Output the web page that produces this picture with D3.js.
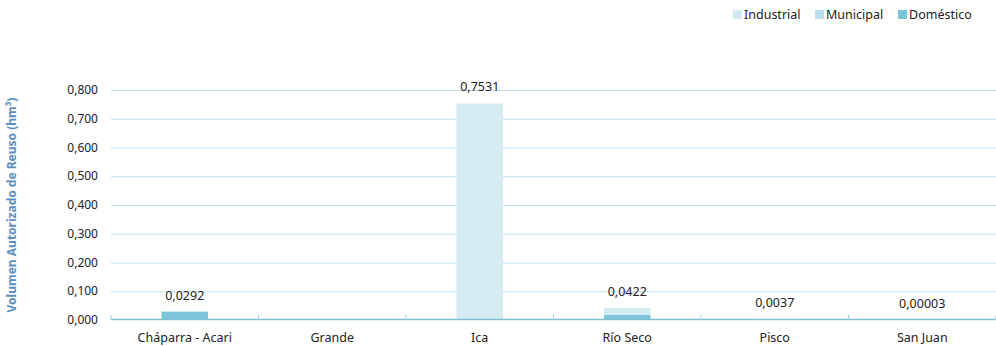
<!DOCTYPE html>
<html><head><meta charset="utf-8">
<script src="https://cdn.jsdelivr.net/npm/d3@7"></script>
<style>body{margin:0;background:#fff;font-family:"Noto Sans","Open Sans",sans-serif;}</style>
</head><body><svg id="c" width="996" height="346"></svg>
<script>
const categories = ["Cháparra - Acari","Grande","Ica","Río Seco","Pisco","San Juan"];
const domestico  = [0.0292, 0, 0, 0.0185, 0.0037, 0.00003];
const municipal  = [0, 0, 0, 0, 0, 0];
const industrial = [0, 0, 0.7531, 0.0237, 0, 0];
const totalLabels = ["0,0292","","0,7531","0,0422","0,0037","0,00003"];
const yTicks = [0,0.1,0.2,0.3,0.4,0.5,0.6,0.7,0.8];
const seriesNames = ["Doméstico","Municipal","Industrial"];
const colors = {"Doméstico":"#7cc4d8","Municipal":"#b8dfea","Industrial":"#d5ebf2"};

const svg = d3.select("#c");
const L=111, R=996, T=90, B=320;
const x = d3.scaleBand().domain(categories).range([L,R]).paddingInner(0).paddingOuter(0);
const y = d3.scaleLinear().domain([0,0.8]).range([B,T]);
const fmt = v => d3.format(".3f")(v).replace(".",",");

svg.append("g").selectAll("line").data(yTicks.filter(d=>d>0)).join("line")
  .attr("x1",L).attr("x2",R).attr("y1",d=>y(d)+0.5).attr("y2",d=>y(d)+0.5)
  .attr("stroke","#bfe2ec").attr("stroke-width",1);

svg.append("g").selectAll("text").data(yTicks).join("text")
  .attr("x",98).attr("y",d=>y(d)+4).attr("text-anchor","end")
  .attr("font-size",12).attr("fill","#222").text(fmt);

const data = categories.map((c,i)=>({cat:c,"Doméstico":domestico[i],"Municipal":municipal[i],"Industrial":industrial[i]}));
const stack = d3.stack().keys(seriesNames)(data);
const bw = x.bandwidth()*0.315;
svg.append("g").selectAll("g").data(stack).join("g").attr("fill",d=>colors[d.key])
  .selectAll("rect").data(d=>d).join("rect")
  .attr("x",d=>x(d.data.cat)+x.bandwidth()/2-bw/2).attr("width",bw)
  .attr("y",d=>y(d[1])).attr("height",d=>Math.max(0,y(d[0])-y(d[1])));

const ax = svg.append("g");
ax.append("line").attr("x1",L).attr("x2",R).attr("y1",B-0.5).attr("y2",B-0.5).attr("stroke","#7fc0d5").attr("stroke-width",1.5);
const seps = categories.map(c=>x(c)).concat([R]);
ax.selectAll("line.t").data(seps).join("line").attr("class","t")
  .attr("x1",d=>d).attr("x2",d=>d).attr("y1",B-5).attr("y2",B).attr("stroke","#9fd0df").attr("stroke-width",1);
ax.selectAll("text").data(categories).join("text")
  .attr("x",d=>x(d)+x.bandwidth()/2).attr("y",B+22).attr("text-anchor","middle")
  .attr("font-size",12.5).attr("fill","#222").text(d=>d);

const totals = categories.map((c,i)=>domestico[i]+municipal[i]+industrial[i]);
svg.append("g").selectAll("text").data(categories).join("text")
  .attr("x",d=>x(d)+x.bandwidth()/2).attr("y",(d,i)=>y(totals[i])-12)
  .attr("text-anchor","middle").attr("font-size",12.5).attr("fill","#222")
  .text((d,i)=>totalLabels[i]);

svg.append("text").attr("transform","translate(16,205) rotate(-90)")
  .attr("text-anchor","middle").attr("font-size",12).attr("font-weight","bold").attr("fill","#5b8fc2")
  .text("Volumen Autorizado de Reuso (hm").append("tspan").attr("dy",-5).attr("font-size",8).text("3")
  .select(function(){return this.parentNode;}).append("tspan").attr("dy",5).text(")");

const legendOrder = ["Industrial","Municipal","Doméstico"];
const legX = [733, 815, 898];
const lg = svg.append("g");
legendOrder.forEach((k,i)=>{
  lg.append("rect").attr("x",legX[i]).attr("y",10).attr("width",9).attr("height",9).attr("fill",colors[k]);
  lg.append("text").attr("x",legX[i]+11).attr("y",19).attr("font-size",12.5).attr("fill","#222").text(k);
});
</script></body></html>
